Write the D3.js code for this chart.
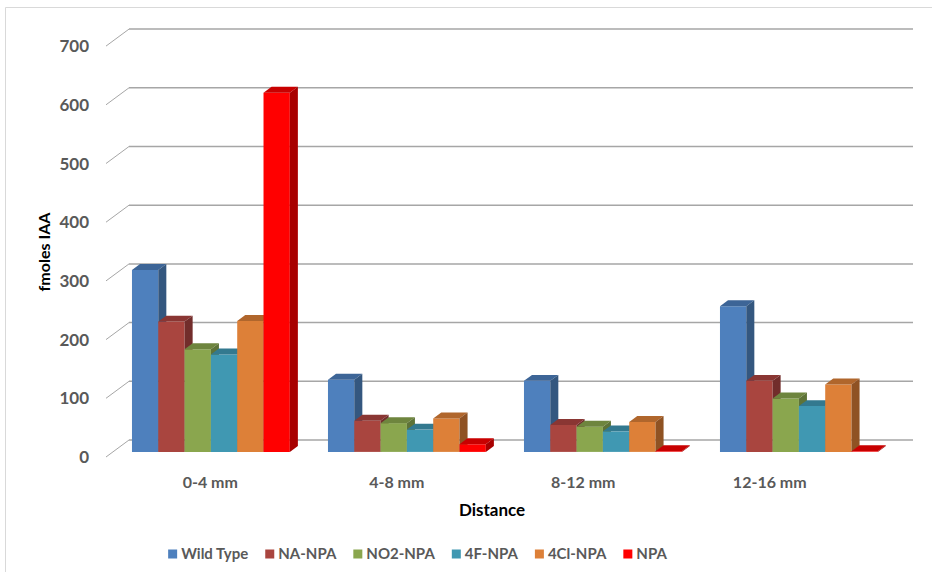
<!DOCTYPE html>
<html>
<head>
<meta charset="utf-8">
<script src="https://cdn.jsdelivr.net/npm/d3@7"></script>
<style>
  html, body { margin: 0; padding: 0; background: #fff; }
  svg { display: block; font-family: Lato, "Open Sans", sans-serif; }
</style>
</head>
<body>
<svg id="chart" width="932" height="572"></svg>
<script>
// Distance bins along the root
const categories = ["0-4 mm", "4-8 mm", "8-12 mm", "12-16 mm"];
// Treatments (series)
const seriesNames = ["Wild Type", "NA-NPA", "NO2-NPA", "4F-NPA", "4Cl-NPA", "NPA"];
// fmoles IAA per treatment, one value per distance bin
const wildType = [310, 123, 121, 248];
const naNpa    = [222, 53, 46, 121];
const no2Npa   = [175, 49, 43, 91];
const f4Npa    = [166, 38, 35, 78];
const cl4Npa   = [223, 57, 51, 115];
const npa      = [612, 13, 1, 1];
const seriesValues = [wildType, naNpa, no2Npa, f4Npa, cl4Npa, npa];
const yTicks = [0, 100, 200, 300, 400, 500, 600, 700];

// face colours: front, top, side
const faceColors = [
  ["#4E80BD", "#3D6597", "#34577F"],
  ["#A9453F", "#8A3633", "#722D2B"],
  ["#8AA64E", "#6E853E", "#5E7337"],
  ["#4098B2", "#33798F", "#2C6E80"],
  ["#DD8038", "#B0662C", "#8F5223"],
  ["#FF0000", "#C80000", "#A80000"]
];

const svg = d3.select("#chart");

// outer frame
svg.append("path")
  .attr("d", "M5.5,600 L5.5,7.5 L940,7.5")
  .attr("fill", "none").attr("stroke", "#D9D9D9").attr("stroke-width", 1);

// 3D geometry: floor depth offset (front -> back)
const DX = 23, DY = -17;
const frontLeft = 106, frontRight = 890;
const y = d3.scaleLinear().domain([0, 700]).range([457, 46.1]);

const x0 = d3.scaleBand().domain(categories).range([frontLeft, frontRight]).padding(0);
const x1 = d3.scaleBand().domain(seriesNames).range([0, x0.bandwidth()]).paddingInner(0).paddingOuter(0.725);

// depth of bar row and bar thickness (fractions of floor depth)
const barT0 = 0.3, barDepth = 0.35;

// back wall gridlines + left diagonal ticks
const grid = svg.append("g");
yTicks.forEach(v => {
  const yf = y(v);
  grid.append("line")
    .attr("x1", frontLeft + DX).attr("x2", frontRight + DX)
    .attr("y1", yf + DY).attr("y2", yf + DY)
    .attr("stroke", "#A6A6A6").attr("stroke-width", 1.5);
  grid.append("line")
    .attr("x1", frontLeft).attr("y1", yf)
    .attr("x2", frontLeft + DX).attr("y2", yf + DY)
    .attr("stroke", "#A6A6A6").attr("stroke-width", 1);
  svg.append("text")
    .attr("x", 89).attr("y", yf)
    .attr("dy", "0.36em")
    .attr("text-anchor", "end")
    .attr("font-size", 17).attr("font-weight", "bold")
    .attr("fill", "#595959")
    .text(v);
});

// bars
const bdx = DX * barDepth, bdy = DY * barDepth;
const bars = svg.append("g");
categories.forEach((cat, ci) => {
  seriesNames.forEach((s, si) => {
    const v = seriesValues[si][ci];
    const xl = x0(cat) + x1(s) + DX * barT0;
    const xr = xl + x1.bandwidth();
    const yb = y(0) + DY * barT0;
    const yt = y(v) + DY * barT0;
    const [cf, ct, cs] = faceColors[si];
    // front face
    bars.append("path")
      .attr("d", `M${xl},${yb} L${xl},${yt} L${xr},${yt} L${xr},${yb} Z`)
      .attr("fill", cf);
    // top face
    bars.append("path")
      .attr("d", `M${xl},${yt} L${xl + bdx},${yt + bdy} L${xr + bdx},${yt + bdy} L${xr},${yt} Z`)
      .attr("fill", ct);
    // side face
    bars.append("path")
      .attr("d", `M${xr},${yb} L${xr},${yt} L${xr + bdx},${yt + bdy} L${xr + bdx},${yb + bdy} Z`)
      .attr("fill", cs);
  });
});

// category labels along the floor
const xLabel = d3.scaleBand().domain(categories).range([117, 863]);
categories.forEach(cat => {
  svg.append("text")
    .attr("x", xLabel(cat) + xLabel.bandwidth() / 2)
    .attr("y", 482).attr("dy", "0.36em")
    .attr("text-anchor", "middle")
    .attr("font-size", 16).attr("font-weight", "bold")
    .attr("fill", "#595959")
    .text(cat);
});

// axis titles
svg.append("text")
  .attr("x", 492).attr("y", 510).attr("dy", "0.36em")
  .attr("text-anchor", "middle")
  .attr("font-size", 17).attr("font-weight", "bold")
  .attr("fill", "#000")
  .text("Distance");

svg.append("text")
  .attr("transform", "translate(44,252) rotate(-90)")
  .attr("dy", "0.36em")
  .attr("text-anchor", "middle")
  .attr("font-size", 16).attr("font-weight", "bold")
  .attr("fill", "#000")
  .text("fmoles IAA");

// legend
const legend = svg.append("g");
const gap = 17;
let lx = 0;
seriesNames.forEach((s, i) => {
  const g = legend.append("g");
  g.append("rect").attr("x", 0).attr("y", -4.5).attr("width", 9).attr("height", 9)
    .attr("fill", faceColors[i][0]);
  const t = g.append("text").attr("x", 13).attr("dy", "0.36em")
    .attr("font-size", 15).attr("font-weight", "bold").attr("fill", "#595959")
    .text(s);
  const w = 13 + t.node().getComputedTextLength();
  g.attr("transform", `translate(${lx},0)`);
  lx += w + gap;
});
const legendWidth = lx - gap;
legend.attr("transform", `translate(${417.5 - legendWidth / 2},554)`);
</script>
</body>
</html>
